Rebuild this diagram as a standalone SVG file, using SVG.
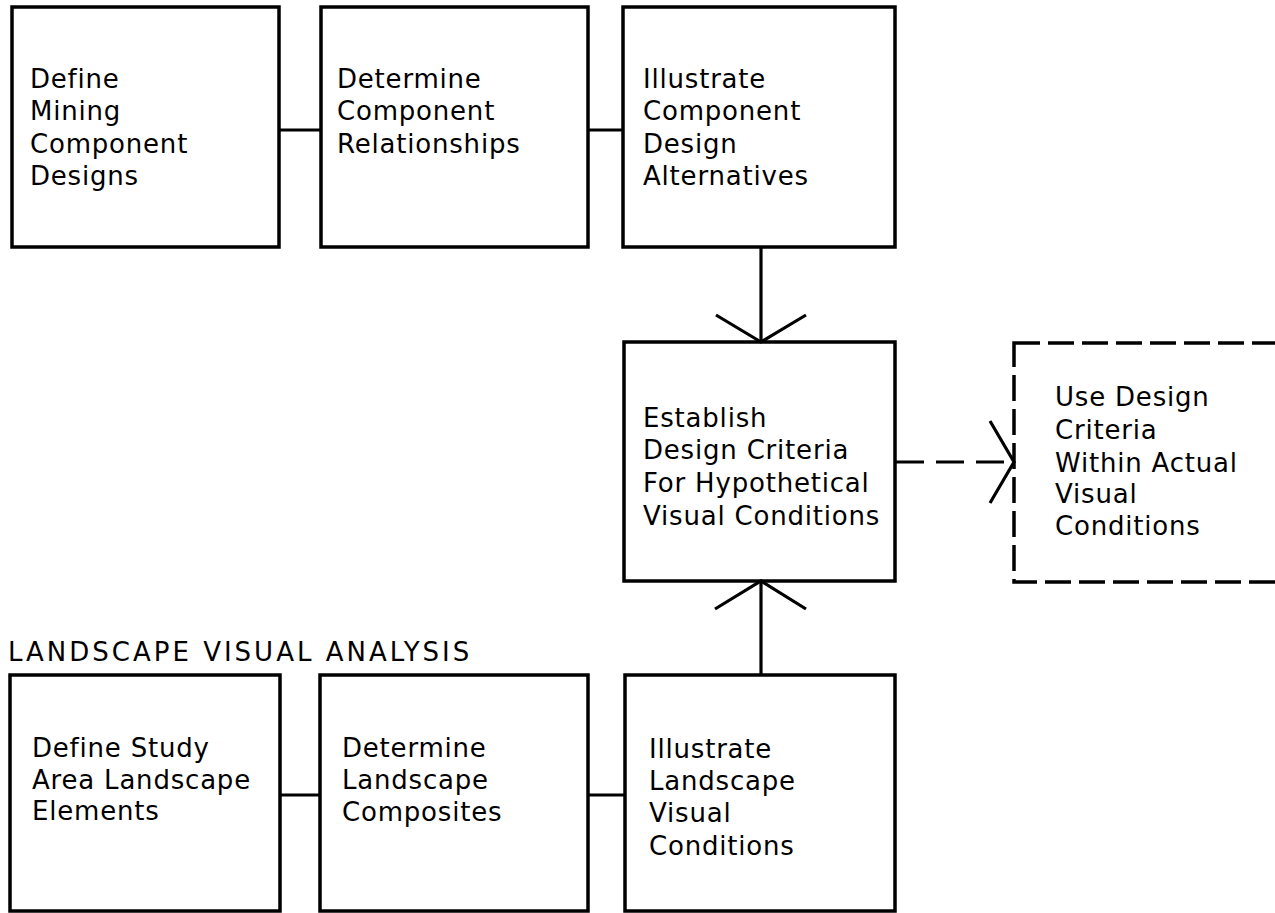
<svg xmlns="http://www.w3.org/2000/svg" width="1275" height="913" viewBox="0 0 1275 913">
<style>
.box{fill:none;stroke:#000;stroke-width:3.5}
.dbox{fill:none;stroke:#000;stroke-width:3.5;stroke-dasharray:26 8}
.ln{fill:none;stroke:#000;stroke-width:3.2}
.dln{fill:none;stroke:#000;stroke-width:3.2;stroke-dasharray:28 12}
.t{font-family:"DejaVu Sans","Liberation Sans",sans-serif;font-size:26px;letter-spacing:0.8px;fill:#000}
.title{font-family:"DejaVu Sans","Liberation Sans",sans-serif;font-size:26px;letter-spacing:3px;fill:#000}
</style>
<rect width="1275" height="913" fill="#fff"/>
<g id="connectors">
<line class="ln" x1="279" y1="130" x2="321" y2="130"/>
<line class="ln" x1="588" y1="130" x2="623" y2="130"/>
<line class="ln" x1="761" y1="247" x2="761" y2="342"/>
<polyline class="ln" points="716,315 761,342 806,315"/>
<line class="ln" x1="761" y1="675" x2="761" y2="581"/>
<polyline class="ln" points="715,609 761,581 806,609"/>
<line class="dln" x1="896" y1="462" x2="1012" y2="462"/>
<polyline class="ln" points="990,421 1014,462 990,503"/>
<line class="ln" x1="280" y1="795" x2="320" y2="795"/>
<line class="ln" x1="588" y1="795" x2="625" y2="795"/>
</g>
<g id="n1">
<rect class="box" x="12" y="7" width="267" height="240"/>
<text class="t" x="30" y="88">Define</text>
<text class="t" x="30" y="120">Mining</text>
<text class="t" x="30" y="153">Component</text>
<text class="t" x="30" y="185">Designs</text>
</g>
<g id="n2">
<rect class="box" x="321" y="7" width="267" height="240"/>
<text class="t" x="337" y="88">Determine</text>
<text class="t" x="337" y="120">Component</text>
<text class="t" x="337" y="153">Relationships</text>
</g>
<g id="n3">
<rect class="box" x="623" y="7" width="272" height="240"/>
<text class="t" x="643" y="88">Illustrate</text>
<text class="t" x="643" y="120">Component</text>
<text class="t" x="643" y="153">Design</text>
<text class="t" x="643" y="185">Alternatives</text>
</g>
<g id="n4">
<rect class="box" x="624" y="342" width="271" height="239"/>
<text class="t" x="643" y="427">Establish</text>
<text class="t" x="643" y="459">Design Criteria</text>
<text class="t" x="643" y="492">For Hypothetical</text>
<text class="t" x="643" y="525">Visual Conditions</text>
</g>
<g id="n5">
<rect class="dbox" x="1014" y="343" width="300" height="239"/>
<text class="t" x="1055" y="406">Use Design</text>
<text class="t" x="1055" y="439">Criteria</text>
<text class="t" x="1055" y="472">Within Actual</text>
<text class="t" x="1055" y="503">Visual</text>
<text class="t" x="1055" y="535">Conditions</text>
</g>
<g id="title">
<text class="title" x="8" y="661">LANDSCAPE VISUAL ANALYSIS</text>
</g>
<g id="n6">
<rect class="box" x="10" y="675" width="270" height="236"/>
<text class="t" x="32" y="757">Define Study</text>
<text class="t" x="32" y="789">Area Landscape</text>
<text class="t" x="32" y="820">Elements</text>
</g>
<g id="n7">
<rect class="box" x="320" y="675" width="268" height="236"/>
<text class="t" x="342" y="757">Determine</text>
<text class="t" x="342" y="789">Landscape</text>
<text class="t" x="342" y="821">Composites</text>
</g>
<g id="n8">
<rect class="box" x="625" y="675" width="270" height="236"/>
<text class="t" x="649" y="758">Illustrate</text>
<text class="t" x="649" y="790">Landscape</text>
<text class="t" x="649" y="822">Visual</text>
<text class="t" x="649" y="855">Conditions</text>
</g>
</svg>
